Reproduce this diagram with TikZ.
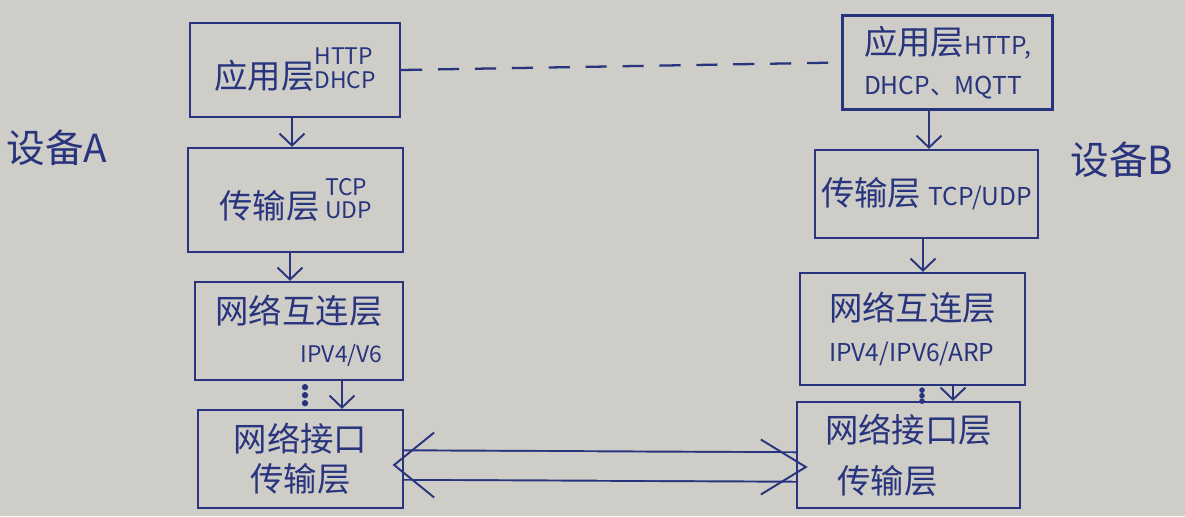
\documentclass[tikz,border=0pt]{standalone}
\usepackage{fontspec}
\setmainfont{Noto Sans CJK SC}
\usepackage{xcolor}
\usetikzlibrary{positioning, calc, arrows.meta}
\definecolor{ink}{RGB}{40,52,125}
\definecolor{paper}{RGB}{206,205,199}

\begin{document}
\begin{tikzpicture}[node distance=0.7cm, >={Straight Barb[length=2.4mm,width=5mm]}]
        \tikzstyle{layer} = [rectangle, draw=ink, line width=1.3pt, text=ink, inner sep=2pt, font=\fontsize{19}{23}\selectfont]
        \tikzstyle{arrow} = [draw=ink, line width=1.1pt, ->]
        \tikzstyle{fat} = [draw=ink, line width=1.1pt, double=paper, double distance=0.55cm]
        \tikzstyle{head} = [draw=ink, line width=1.1pt]
        \tikzstyle{dev} = [text=ink, font=\fontsize{22}{26}\selectfont]
        \newcommand{\lat}{\fontsize{13}{15}\selectfont}

        \fill [paper] (0,0) rectangle (23.7,-10.32);
        \useasboundingbox (0,0) rectangle (23.7,-10.32);

        % device A
        \node (a1) [layer, minimum width=4.2cm, minimum height=1.88cm] at (5.9,-1.4) {应用层{\lat\shortstack[l]{HTTP\\[1pt]DHCP}}};
        \node (a2) [layer, minimum width=4.3cm, minimum height=2.08cm] at (5.91,-4.0) {传输层\,{\lat\shortstack[l]{TCP\\UDP}}};
        \node (a3) [layer, minimum width=4.16cm, minimum height=1.96cm, align=right] at (5.98,-6.62) {网络互连层\\[-1pt]{\lat IPV4/V6}};
        \node (a4) [layer, minimum width=4.1cm, minimum height=1.96cm, align=center] at (6.01,-9.18) {网络接口\\传输层};

        % device B
        \node (b1) [layer, minimum width=4.2cm, minimum height=1.88cm, align=left] at (18.95,-1.25) {应用层{\fontsize{14}{16}\selectfont HTTP,}\\{\fontsize{14}{16}\selectfont DHCP、MQTT}};
        \node (b2) [layer, minimum width=4.46cm, minimum height=1.76cm] at (18.53,-3.88) {传输层 {\fontsize{14}{16}\selectfont TCP/UDP}};
        \node (b3) [layer, minimum width=4.5cm, minimum height=2.24cm, align=left] at (18.25,-6.58) {网络互连层\\{\fontsize{14}{16}\selectfont IPV4/IPV6/ARP}};
        \node (b4) [layer, minimum width=4.46cm, minimum height=2.12cm, align=left] at (18.17,-9.1) {网络接口层\\[6pt]\hspace{0.25cm}传输层};

        \node (devA) [dev] at (1.14,-2.96) {设备A};
        \node (devB) [dev] at (22.44,-3.2) {设备B};

        \draw [arrow] ([xshift=-0.06cm]a1.south) -- ([xshift=-0.06cm]a1.south |- a2.north);
        \draw [arrow] ([xshift=-0.11cm]a2.south) -- ([xshift=-0.11cm]a2.south |- a3.north);
        \draw [arrow] ([xshift=0.86cm]a3.south) -- ([xshift=0.86cm]a3.south |- a4.north);
        \draw [arrow] ([xshift=-0.37cm]b1.south) -- ([xshift=-0.37cm]b1.south |- b2.north);
        \draw [arrow] ([xshift=-0.07cm]b2.south) -- ([xshift=-0.07cm]b2.south |- b3.north);
        \draw [arrow] ([xshift=0.81cm]b3.south) -- ([xshift=0.81cm]b3.south |- b4.north);

        % dots between the lower layers
        \foreach \d in {0,1,2} {
            \fill [ink] ([xshift=0.12cm, yshift={-(0.12+\d*0.16)*1cm}]a3.south) circle (1.8pt);
            \fill [ink] ([xshift=0.19cm, yshift={-(0.08+\d*0.11)*1cm}]b3.south) circle (1.6pt);
        }

        \draw [ink, line width=1.3pt, dash pattern=on 12pt off 9pt] (a1.east) -- (b1.west);

        % physical link
        \coordinate (tipA) at ([xshift=-0.2cm, yshift=-0.12cm]a4.east);
        \coordinate (tipB) at ([xshift=0.2cm, yshift=-0.24cm]b4.west);
        \draw [fat] ([yshift=-0.12cm]a4.east) -- ([yshift=-0.24cm]b4.west);
        \draw [head] ($(tipA)+(0.8,0.65)$) -- (tipA) -- ($(tipA)+(0.8,-0.65)$);
        \draw [head] ($(tipB)+(-0.9,0.55)$) -- (tipB) -- ($(tipB)+(-0.9,-0.55)$);
    \end{tikzpicture}
\end{document}
